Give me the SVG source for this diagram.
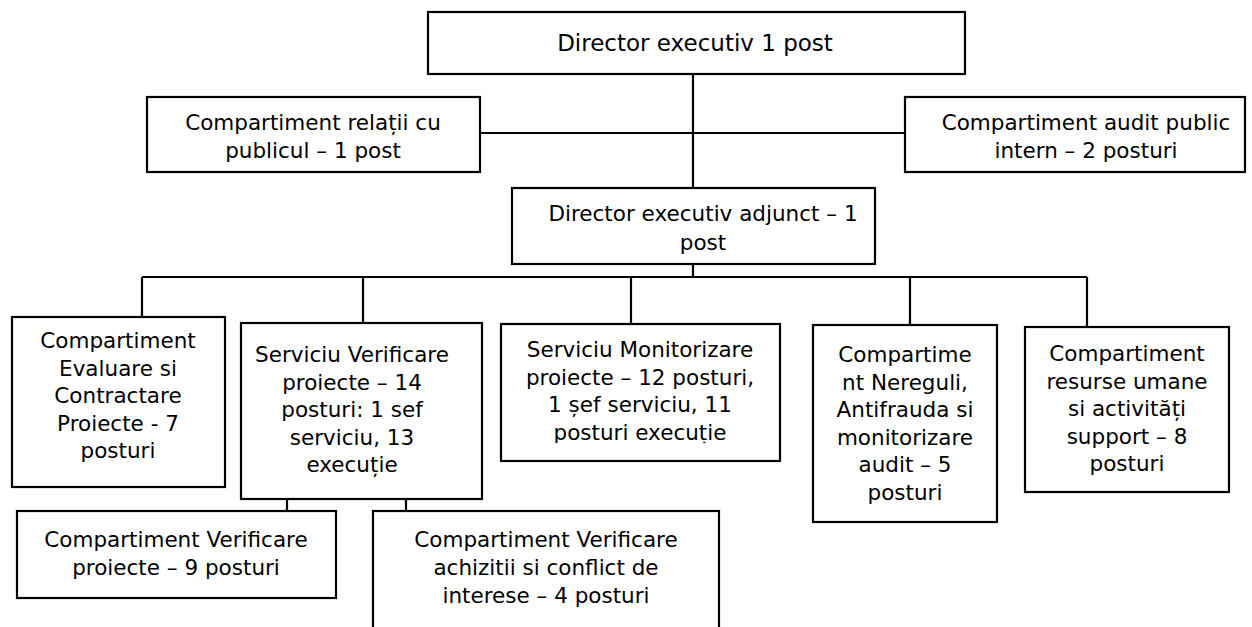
<svg xmlns="http://www.w3.org/2000/svg" width="1252" height="627" viewBox="0 0 1252 627">
<style>
.box{fill:#fff;stroke:#000;stroke-width:2.2}
.ln{fill:none;stroke:#000;stroke-width:2.2}
text{font-family:"DejaVu Sans","Verdana",sans-serif;font-size:21.5px;fill:#000;text-anchor:middle}
.big{font-size:23px}
</style>
<defs>
<clipPath id="cpL"><rect x="147" y="97" width="333" height="65"/></clipPath>
<clipPath id="cpR"><rect x="905" y="97" width="340" height="65"/></clipPath>
<clipPath id="cp3"><rect x="501" y="324" width="279" height="119"/></clipPath>
<clipPath id="cp4"><rect x="813" y="325" width="184" height="192"/></clipPath>
</defs>
<rect width="1252" height="627" fill="#fff"/>
<g id="connectors">
<path class="ln" d="M693 74V188M480 133H905M693 264V277M142 277H1087M142 277V317M363 277V323M631 277V324M910 277V325M1087 277V327M287 499V511M406 499V511"/>
</g>
<g id="director">
<rect class="box" x="428" y="12" width="537" height="62"/>
<text class="big" x="695" y="51">Director executiv 1 post</text>
</g>
<g id="relatii">
<rect class="box" x="147" y="97" width="333" height="75"/>
<g clip-path="url(#cpL)">
<text x="313" y="130">Compartiment relații cu</text>
<text x="313" y="158">publicul – 1 post</text>
</g>
</g>
<g id="audit">
<rect class="box" x="905" y="97" width="340" height="75"/>
<g clip-path="url(#cpR)">
<text x="1086" y="130">Compartiment audit public</text>
<text x="1086" y="158">intern – 2 posturi</text>
</g>
</g>
<g id="adjunct">
<rect class="box" x="512" y="188" width="363" height="76"/>
<text x="703" y="221">Director executiv adjunct – 1</text>
<text x="703" y="250">post</text>
</g>
<g id="evaluare">
<rect class="box" x="12" y="317" width="213" height="170"/>
<text x="118" y="348">Compartiment</text>
<text x="118" y="375.5">Evaluare si</text>
<text x="118" y="403">Contractare</text>
<text x="118" y="430.5">Proiecte - 7</text>
<text x="118" y="458">posturi</text>
</g>
<g id="verificare">
<rect class="box" x="241" y="323" width="241" height="176"/>
<text x="352" y="362">Serviciu Verificare</text>
<text x="352" y="389.5">proiecte – 14</text>
<text x="352" y="417">posturi: 1 sef</text>
<text x="352" y="444.5">serviciu, 13</text>
<text x="352" y="472">execuție</text>
</g>
<g id="monitorizare">
<rect class="box" x="501" y="324" width="279" height="137"/>
<g clip-path="url(#cp3)">
<text x="640" y="357">Serviciu Monitorizare</text>
<text x="640" y="384.5">proiecte – 12 posturi,</text>
<text x="640" y="412">1 șef serviciu, 11</text>
<text x="640" y="439.5">posturi execuție</text>
</g>
</g>
<g id="nereguli">
<rect class="box" x="813" y="325" width="184" height="197"/>
<g clip-path="url(#cp4)">
<text x="905" y="362">Compartime</text>
<text x="905" y="389.5">nt Nereguli,</text>
<text x="905" y="417">Antifrauda si</text>
<text x="905" y="444.5">monitorizare</text>
<text x="905" y="472">audit – 5</text>
<text x="905" y="499.5">posturi</text>
</g>
</g>
<g id="resurse">
<rect class="box" x="1025" y="327" width="204" height="165"/>
<text x="1127" y="361">Compartiment</text>
<text x="1127" y="388.5">resurse umane</text>
<text x="1127" y="416">si activități</text>
<text x="1127" y="443.5">support – 8</text>
<text x="1127" y="471">posturi</text>
</g>
<g id="verif-proiecte">
<rect class="box" x="17" y="511" width="319" height="87"/>
<text x="176" y="547">Compartiment Verificare</text>
<text x="176" y="575">proiecte – 9 posturi</text>
</g>
<g id="achizitii">
<rect class="box" x="373" y="511" width="346" height="130"/>
<text x="546" y="547">Compartiment Verificare</text>
<text x="546" y="575">achizitii si conflict de</text>
<text x="546" y="603">interese – 4 posturi</text>
</g>
</svg>
